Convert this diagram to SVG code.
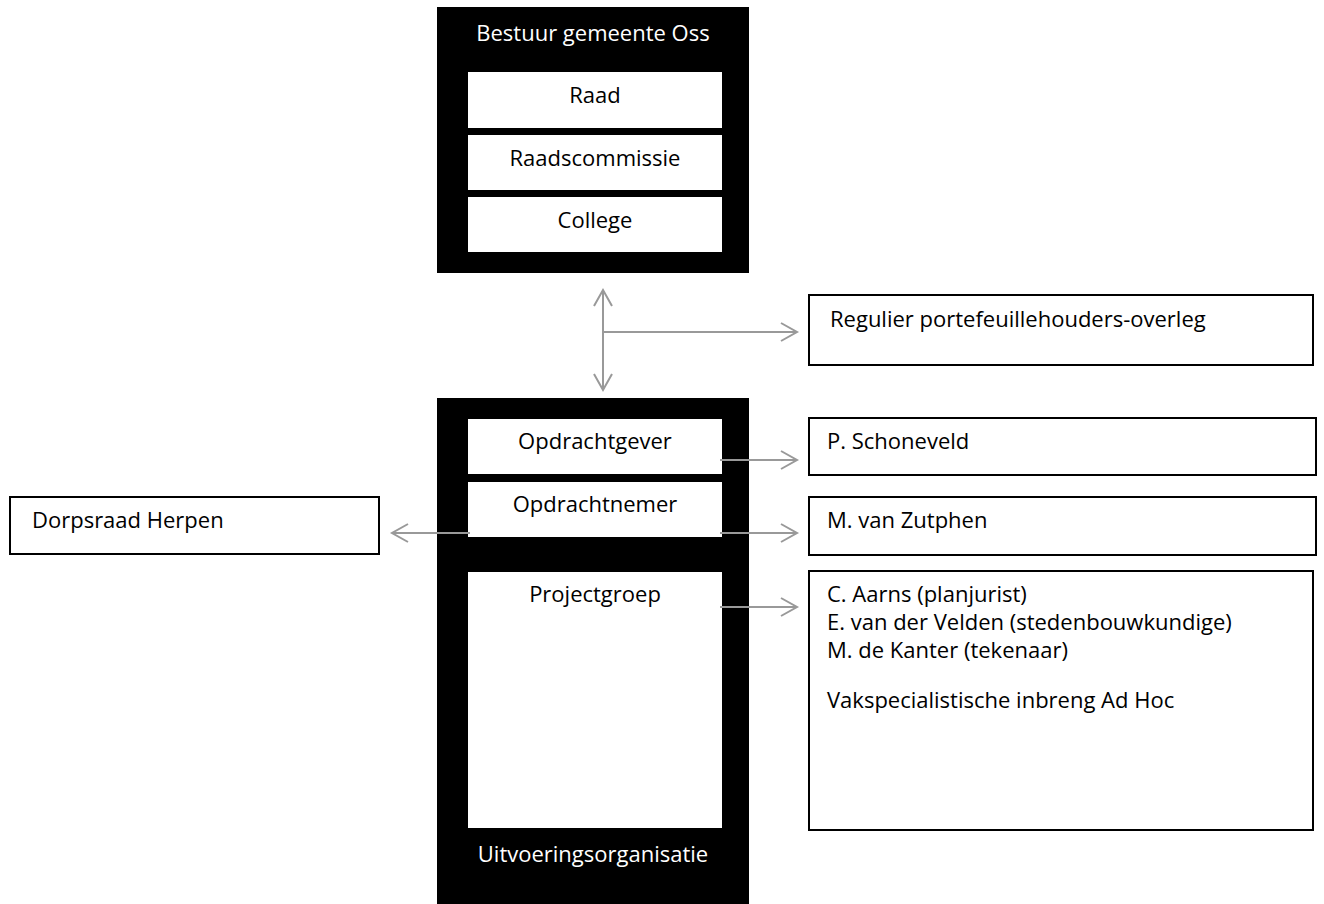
<svg xmlns="http://www.w3.org/2000/svg" width="1324" height="904" viewBox="0 0 1324 904">
<defs>
<style>
.t{font-family:"Open Sans","Noto Sans",sans-serif;font-size:22px;fill:#000}
.w{fill:#fff}
.c{text-anchor:middle}
.blk{fill:#000}
.wb{fill:#fff}
.box{fill:#fff;stroke:#000;stroke-width:2}
.ar{fill:none;stroke:#999;stroke-width:2}
</style>
<marker id="ah" markerUnits="userSpaceOnUse" markerWidth="20" markerHeight="22" viewBox="-18 -11 20 22" refX="0" refY="0" orient="auto-start-reverse" overflow="visible">
<path d="M -16 -9 L 0 0 L -16 9" fill="none" stroke="#999" stroke-width="2"/>
</marker>
</defs>
<rect width="1324" height="904" fill="#fff"/>
<g id="bestuur">
<rect class="blk" x="437" y="7" width="312" height="266"/>
<text class="t w c" x="593" y="41">Bestuur gemeente Oss</text>
</g>
<g id="raad">
<rect class="wb" x="468" y="72" width="254" height="56"/>
<text class="t c" x="595" y="103">Raad</text>
</g>
<g id="raadscommissie">
<rect class="wb" x="468" y="135" width="254" height="55"/>
<text class="t c" x="595" y="166">Raadscommissie</text>
</g>
<g id="college">
<rect class="wb" x="468" y="197" width="254" height="55"/>
<text class="t c" x="595" y="228">College</text>
</g>
<g id="uitvoering">
<rect class="blk" x="437" y="398" width="312" height="506"/>
<text class="t w c" x="593" y="862">Uitvoeringsorganisatie</text>
</g>
<g id="opdrachtgever">
<rect class="wb" x="468" y="419" width="254" height="55"/>
<text class="t c" x="595" y="449">Opdrachtgever</text>
</g>
<g id="opdrachtnemer">
<rect class="wb" x="468" y="482" width="254" height="55"/>
<text class="t c" x="595" y="512">Opdrachtnemer</text>
</g>
<g id="projectgroep">
<rect class="wb" x="468" y="572" width="254" height="256"/>
<text class="t c" x="595" y="602">Projectgroep</text>
</g>
<g id="regulier">
<rect class="box" x="809" y="295" width="504" height="70"/>
<text class="t" x="830" y="327">Regulier portefeuillehouders-overleg</text>
</g>
<g id="schoneveld">
<rect class="box" x="809" y="418" width="507" height="57"/>
<text class="t" x="827" y="449">P. Schoneveld</text>
</g>
<g id="zutphen">
<rect class="box" x="809" y="497" width="507" height="58"/>
<text class="t" x="827" y="528">M. van Zutphen</text>
</g>
<g id="projectleden">
<rect class="box" x="809" y="571" width="504" height="259"/>
<text class="t" x="827" y="602">C. Aarns (planjurist)</text>
<text class="t" x="827" y="630">E. van der Velden (stedenbouwkundige)</text>
<text class="t" x="827" y="658">M. de Kanter (tekenaar)</text>
<text class="t" x="827" y="708">Vakspecialistische inbreng Ad Hoc</text>
</g>
<g id="dorpsraad">
<rect class="box" x="10" y="497" width="369" height="57"/>
<text class="t" x="32" y="528">Dorpsraad Herpen</text>
</g>
<g id="connectors">
<line class="ar" x1="603" y1="290" x2="603" y2="390" marker-start="url(#ah)" marker-end="url(#ah)"/>
<line class="ar" x1="603" y1="332" x2="797" y2="332" marker-end="url(#ah)"/>
<line class="ar" x1="720" y1="460" x2="797" y2="460" marker-end="url(#ah)"/>
<line class="ar" x1="720" y1="533" x2="797" y2="533" marker-end="url(#ah)"/>
<line class="ar" x1="470" y1="533" x2="392" y2="533" marker-end="url(#ah)"/>
<line class="ar" x1="720" y1="607" x2="797" y2="607" marker-end="url(#ah)"/>
</g>
</svg>
